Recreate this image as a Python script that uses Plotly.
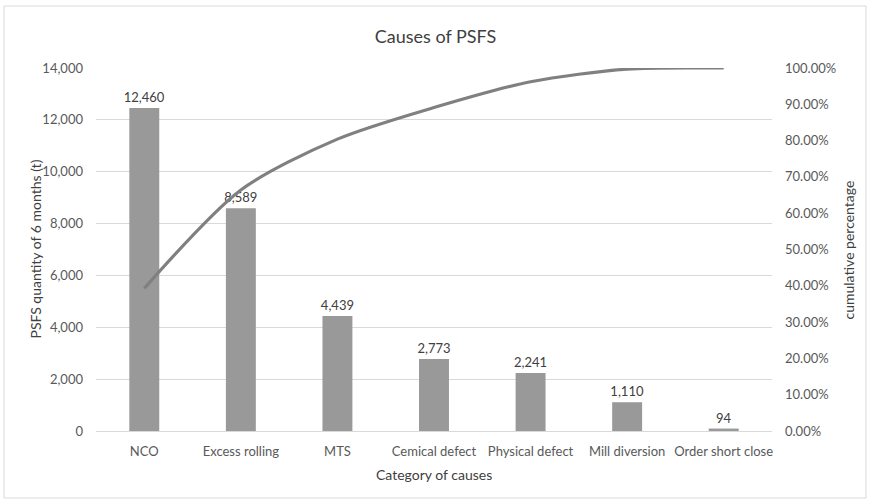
import plotly.graph_objects as go

categories = ["NCO", "Excess rolling", "MTS", "Cemical defect", "Physical defect", "Mill diversion", "Order short close"]
quantities = [12460, 8589, 4439, 2773, 2241, 1110, 94]
cumulative_pct = [0.393, 0.664, 0.804, 0.891, 0.962, 0.997, 1.000]

FONT = "Lato, 'Liberation Sans', sans-serif"
TXT = "#595959"

fig = go.Figure()
fig.add_trace(go.Bar(
    x=categories, y=quantities, marker_color="#999999", marker_line_width=0,
    width=0.31, text=[f"{v:,}" for v in quantities], textposition="outside",
    constraintext="none",
    textfont=dict(family=FONT, size=13, color="#404040"), cliponaxis=False,
    yaxis="y", showlegend=False))
fig.add_trace(go.Scatter(
    x=categories, y=cumulative_pct, mode="lines",
    line=dict(color="#808080", width=3.2, shape="spline", smoothing=0.8),
    yaxis="y2", showlegend=False))

L, R, T, B = 96, 772, 68, 431
W, H = 871, 502
pw, ph = R - L, B - T

def px(x):
    return (x - L) / pw

def py(y):
    return (B - y) / ph

title_font = dict(family=FONT, size=14, color="#404040")

fig.update_layout(
    width=W, height=H,
    margin=dict(l=L, r=W - R, t=T, b=H - B, pad=0, autoexpand=False),
    paper_bgcolor="white", plot_bgcolor="white",
    font=dict(family=FONT, size=13, color=TXT),
    title=dict(text="Causes of PSFS", x=0.5, xanchor="center", y=1 - 37 / H, yanchor="middle",
               font=dict(family=FONT, size=18, color="#404040")),
    bargap=0.69,
    xaxis=dict(automargin=False,
               showline=True, linecolor="#d9d9d9", linewidth=1, ticks="",
               ticklabelstandoff=8,
               tickfont=dict(size=13, color=TXT)),
    yaxis=dict(automargin=False,
               range=[0, 14000], dtick=2000, tickformat=",d", showgrid=True, gridcolor="#d9d9d9",
               gridwidth=1, zeroline=False, ticks="", ticklabelstandoff=12,
               tickfont=dict(size=13, color=TXT)),
    yaxis2=dict(automargin=False,
                overlaying="y", side="right", range=[0, 1], dtick=0.1, tickformat=".2%",
                showgrid=False, zeroline=False, ticks="", ticklabelstandoff=12,
                tickfont=dict(size=13, color=TXT)),
    annotations=[
        dict(text="Category of causes", xref="paper", yref="paper", x=0.5, y=py(474),
             xanchor="center", yanchor="middle", showarrow=False, font=title_font),
        dict(text="PSFS quantity of 6 months (t)", xref="paper", yref="paper", x=px(35), y=0.5,
             xanchor="center", yanchor="middle", textangle=-90, showarrow=False, font=title_font),
        dict(text="cumulative percentage", xref="paper", yref="paper", x=px(848), y=0.5,
             xanchor="center", yanchor="middle", textangle=-90, showarrow=False, font=title_font),
    ],
    shapes=[dict(type="rect", xref="paper", yref="paper",
                 x0=px(4), x1=px(866), y0=py(498), y1=py(6),
                 line=dict(color="#d9d9d9", width=1), fillcolor="rgba(0,0,0,0)", layer="below")],
)

fig.write_html("out.html", config={"displayModeBar": False},
               post_script="document.body.style.margin='0';document.body.style.overflow='hidden';")
